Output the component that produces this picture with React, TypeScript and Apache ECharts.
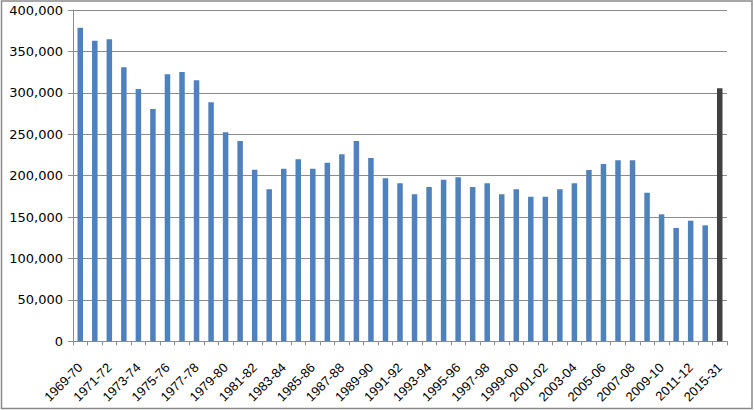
import React, { useEffect, useRef } from "react";
import * as echarts from "echarts";

const categories: string[] = [
  "1969-70", "1970-71", "1971-72", "1972-73", "1973-74", "1974-75", "1975-76", "1976-77",
  "1977-78", "1978-79", "1979-80", "1980-81", "1981-82", "1982-83", "1983-84", "1984-85",
  "1985-86", "1986-87", "1987-88", "1988-89", "1989-90", "1990-91", "1991-92", "1992-93",
  "1993-94", "1994-95", "1995-96", "1996-97", "1997-98", "1998-99", "1999-00", "2000-01",
  "2001-02", "2002-03", "2003-04", "2004-05", "2005-06", "2006-07", "2007-08", "2008-09",
  "2009-10", "2010-11", "2011-12", "2012-13", "2015-31",
];

const values: number[] = [
  378600, 362900, 364600, 330800, 304600, 280500, 322400, 325200,
  315100, 288600, 252300, 241800, 207200, 183500, 208400, 219700,
  208400, 215600, 225800, 241800, 221300, 196800, 190800, 177500,
  186300, 195100, 198000, 186300, 190800, 177500, 183500, 174600,
  174600, 183500, 190800, 206800, 214100, 218500, 218500, 179400,
  153300, 136800, 145600, 140000, 305500,
];

const highlighted: string[] = ["2015-31"];

const yTicks = { min: 0, max: 400000, interval: 50000 };

const BLUE = "#4F81BD";
const DARK = "#404040";
const GRID = "#8C8C8C";

export default function App() {
  const ref = useRef<HTMLDivElement>(null);

  useEffect(() => {
    document.body.style.margin = "0";
    if (!ref.current) return;
    const chart = echarts.init(ref.current, null, { renderer: "svg" });
    const data = values.map((v, i) => ({
      value: v,
      itemStyle: { color: highlighted.includes(categories[i]) ? DARK : BLUE },
    }));
    chart.setOption({
      animation: false,
      backgroundColor: "#ffffff",
      grid: { left: 73, right: 27, top: 10, bottom: 68.7, containLabel: false },
      graphic: [
        {
          type: "rect",
          shape: { x: 1.5, y: 1, width: 750.5, height: 407.5 },
          style: { fill: "none", stroke: "#8A8A8A", lineWidth: 1.5 },
          silent: true,
          z: 100,
        },
      ],
      xAxis: {
        type: "category",
        data: categories,
        boundaryGap: true,
        axisLine: { show: true, lineStyle: { color: GRID, width: 1 } },
        axisTick: { show: true, interval: 0, length: 4, lineStyle: { color: GRID } },
        axisLabel: {
          interval: 1,
          rotate: 45,
          margin: 24,
          color: "#000000",
          fontFamily: "Liberation Sans",
          fontSize: 13,
        },
      },
      yAxis: {
        type: "value",
        min: yTicks.min,
        max: yTicks.max,
        interval: yTicks.interval,
        axisLine: { show: true, lineStyle: { color: GRID, width: 1 } },
        axisTick: { show: true, length: 5, inside: false, lineStyle: { color: GRID } },
        splitLine: { show: true, lineStyle: { color: GRID, width: 1 } },
        axisLabel: {
          margin: 10,
          color: "#000000",
          fontFamily: "DejaVu Sans",
          fontSize: 13,
          formatter: (v: number) => v.toLocaleString("en-US"),
        },
      },
      series: [
        {
          type: "bar",
          data,
          barWidth: 5.5,
        },
      ],
    });
    return () => chart.dispose();
  }, []);

  return (
    <div
      ref={ref}
      style={{ position: "absolute", left: 0, top: 0, width: 754, height: 410 }}
    />
  );
}
